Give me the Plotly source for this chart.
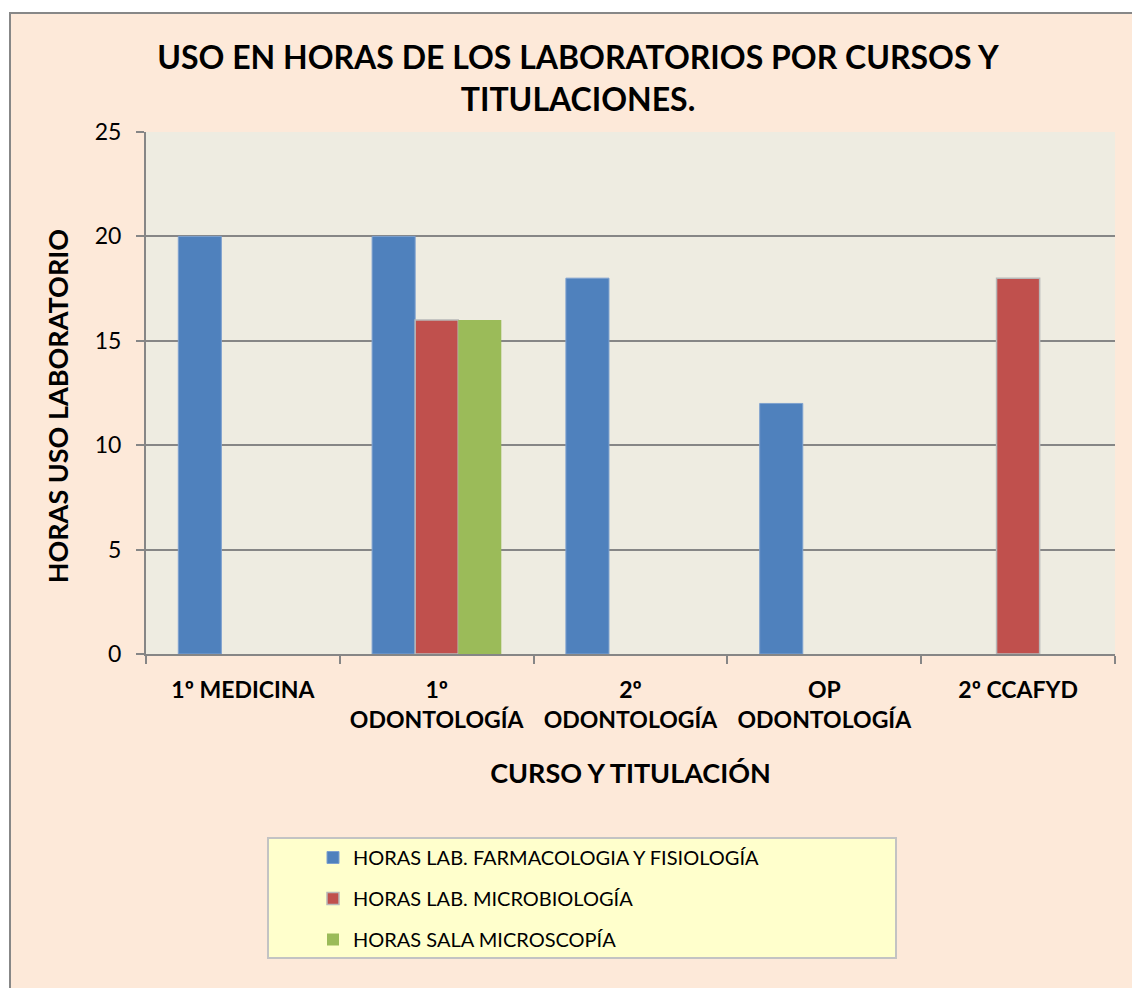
import plotly.graph_objects as go

categories = ["1º MEDICINA", "1º<br>ODONTOLOGÍA", "2º<br>ODONTOLOGÍA", "OP<br>ODONTOLOGÍA", "2º CCAFYD"]
farmacologia = [20, 20, 18, 12, None]
microbiologia = [None, 16, None, None, 18]
microscopia = [None, 16, None, None, None]
series_names = ["HORAS LAB. FARMACOLOGIA Y FISIOLOGÍA", "HORAS LAB. MICROBIOLOGÍA", "HORAS SALA MICROSCOPÍA"]
y_ticks = [0, 5, 10, 15, 20, 25]

W, H = 1132, 988
# plot area in pixels
L, R, T, B = 146, 1115, 132, 654
pw, ph = R - L, B - T

def px(x):
    return (x - L) / pw

def py(y):
    return (B - y) / ph

FONT = "Lato"

fig = go.Figure()
fig.add_trace(go.Bar(x=categories, y=farmacologia, name=series_names[0], legendgroup="a",
                     marker=dict(color="#4F81BD", line=dict(color="#7EA1CF", width=1))))
fig.add_trace(go.Bar(x=categories, y=microbiologia, name=series_names[1], legendgroup="b",
                     marker=dict(color="#C0504D", line=dict(color="#B8B8B8", width=1.5))))
fig.add_trace(go.Bar(x=categories, y=microscopia, name=series_names[2], legendgroup="c",
                     marker=dict(color="#9BBB59", line=dict(color="#9BBB59", width=0))))

shapes = [
    dict(type="rect", xref="paper", yref="paper", layer="below",
         x0=px(10), x1=px(1150), y0=py(13), y1=py(1000),
         fillcolor="#FDE9D9", line=dict(color="#878787", width=2)),
    dict(type="rect", xref="paper", yref="paper", layer="below",
         x0=0, x1=1, y0=0, y1=1, fillcolor="#EEECE1", line=dict(width=0)),
    dict(type="rect", xref="paper", yref="paper", layer="below",
         x0=px(268), x1=px(896), y0=py(838), y1=py(958),
         fillcolor="#FFFFCC", line=dict(color="#C3C3C3", width=2)),
]

fig.update_layout(
    width=W, height=H,
    margin=dict(l=L, r=W - R, t=T, b=H - B),
    paper_bgcolor="white",
    plot_bgcolor="#EEECE1",
    barmode="group",
    bargap=1/3,
    bargroupgap=0,
    font=dict(family=FONT, color="black"),
    title=dict(text="<b>USO EN HORAS DE LOS LABORATORIOS POR CURSOS Y<br>TITULACIONES.</b>",
               x=578 / W, xanchor="center", y=1 - 69 / H, yanchor="top",
               font=dict(family=FONT, size=32, color="black")),
    shapes=shapes,
    showlegend=True,
    legend=dict(x=px(313), xanchor="left", y=py(838), yanchor="top",
                bgcolor="rgba(0,0,0,0)", borderwidth=0,
                font=dict(family=FONT, size=20, color="black"),
                tracegroupgap=12, traceorder="grouped"),
)

fig.update_xaxes(
    showline=True, linecolor="#868686", linewidth=2,
    ticks="outside", tickson="boundaries", ticklen=8, tickcolor="#868686", tickwidth=2,
    ticklabelstandoff=14,
    tickfont=dict(family=FONT, size=23, color="black", weight="bold"),
    title=dict(text="<b>CURSO Y TITULACIÓN</b>", font=dict(family=FONT, size=27, color="black"),
               standoff=33),
    showgrid=False,
)
fig.update_yaxes(
    range=[0, 25], tickvals=y_ticks,
    showline=True, linecolor="#868686", linewidth=2,
    ticks="outside", ticklen=8, tickcolor="#868686", tickwidth=2,
    ticklabelstandoff=10,
    showgrid=True, gridcolor="#868686", gridwidth=1.5,
    zeroline=False,
    tickfont=dict(family=FONT, size=23, color="black"),
    title=dict(text="<b>HORAS USO LABORATORIO&nbsp;&nbsp;&nbsp;&nbsp;</b>",
               font=dict(family=FONT, size=27, color="black"),
               standoff=18),
)

fig.write_html("out.html", config={"displayModeBar": False},
               post_script="document.body.style.margin='0';")
